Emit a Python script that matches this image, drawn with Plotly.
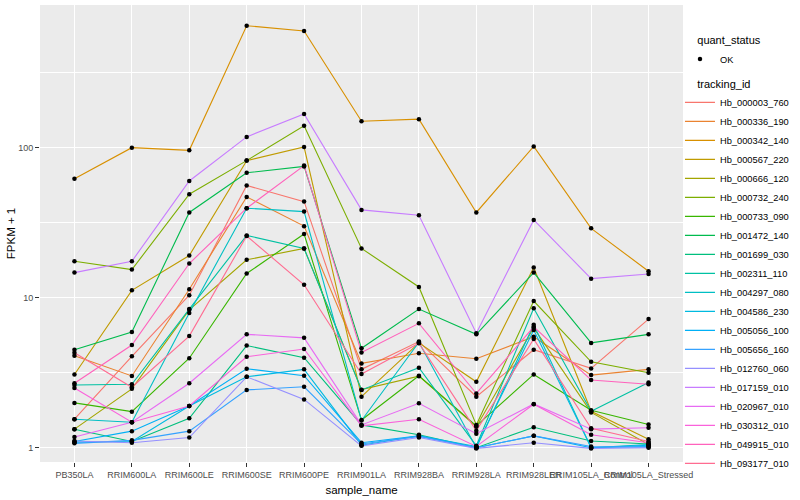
import plotly.graph_objects as go

samples = ["PB350LA", "RRIM600LA", "RRIM600LE", "RRIM600SE", "RRIM600PE", "RRIM901LA",
           "RRIM928BA", "RRIM928LA", "RRIM928LER", "RRIM105LA_Control", "RRIM105LA_Stressed"]

tracking_ids = ["Hb_000003_760", "Hb_000336_190", "Hb_000342_140", "Hb_000567_220", "Hb_000666_120",
                "Hb_000732_240", "Hb_000733_090", "Hb_001472_140", "Hb_001699_030", "Hb_002311_110",
                "Hb_004297_080", "Hb_004586_230", "Hb_005056_100", "Hb_005656_160", "Hb_012760_060",
                "Hb_017159_010", "Hb_020967_010", "Hb_030312_010", "Hb_049915_010", "Hb_093177_010"]

colors = ["#F8766D", "#EA8331", "#D89000", "#C09B00", "#A3A500", "#7CAE00", "#39B600", "#00BB4E",
          "#00BF7D", "#00C1A3", "#00BFC4", "#00BAE0", "#00B0F6", "#35A2FF", "#9590FF", "#C77CFF",
          "#E76BF3", "#FA62DB", "#FF62BC", "#FF6C91"]

# FPKM + 1 values per tracking id, in sample order
hb_000003_760 = [1.55, 4.07, 10.4, 56, 43.7, 3.33, 5.1, 2.19, 4.5, 3.38, 7.2]
hb_000336_190 = [4.1, 3.01, 11.4, 47, 30, 3.65, 4.26, 3.92, 5.5, 3.05, 3.33]
hb_000342_140 = [62, 100, 96, 650, 600, 150, 155, 37, 102, 29, 15]
hb_000567_220 = [3.08, 11.2, 19.1, 82, 101, 2.19, 5.0, 2.75, 15.9, 1.75, 1.14]
hb_000666_120 = [1.33, 2.47, 8.3, 17.9, 21.3, 2.44, 3.0, 1.38, 6.3, 1.72, 1.05]
hb_000732_240 = [17.5, 15.4, 49, 82, 140, 21.3, 11.8, 1.42, 9.5, 3.74, 3.16]
hb_000733_090 = [1.99, 1.74, 3.95, 14.5, 26.6, 1.53, 3.02, 1.40, 3.08, 1.78, 1.43]
hb_001472_140 = [4.5, 5.9, 37, 68, 75, 4.6, 8.4, 5.7, 14.7, 5.0, 5.7]
hb_001699_030 = [1.33, 1.1, 1.57, 4.8, 3.98, 1.42, 1.22, 1.0, 1.37, 1.11, 1.06]
hb_002311_110 = [2.62, 2.65, 8.4, 26, 21.3, 2.43, 3.42, 1.03, 8.5, 1.75, 2.72]
hb_004297_080 = [1.55, 1.48, 7.9, 39.5, 37.5, 1.52, 5.05, 1.0, 6.6, 1.0, 1.05]
hb_004586_230 = [1.09, 1.1, 1.9, 2.97, 3.33, 1.04, 1.2, 1.02, 6.1, 1.0, 1.02]
hb_005056_100 = [1.1, 1.29, 1.9, 3.36, 3.02, 1.08, 1.2, 1.0, 1.2, 1.0, 1.04]
hb_005656_160 = [1.07, 1.12, 1.29, 2.43, 2.55, 1.06, 1.19, 1.0, 1.2, 1.02, 1.01]
hb_012760_060 = [1.11, 1.08, 1.17, 2.97, 2.1, 1.03, 1.17, 0.99, 1.08, 0.99, 1.0]
hb_017159_010 = [14.7, 17.5, 60, 118, 168, 38.5, 35.5, 5.8, 33, 13.4, 14.4]
hb_020967_010 = [1.18, 1.48, 2.69, 5.7, 5.4, 1.42, 1.98, 1.24, 1.96, 1.33, 1.36]
hb_030312_010 = [2.5, 1.48, 1.9, 4.04, 4.55, 1.4, 1.55, 1.02, 1.95, 1.22, 1.08]
hb_049915_010 = [2.69, 4.84, 16.9, 39.5, 76, 4.32, 6.75, 2.3, 6.4, 2.83, 2.65]
hb_093177_010 = [4.3, 2.53, 5.55, 25.8, 12.2, 3.1, 4.97, 1.3, 5.3, 1.35, 1.1]

series = [hb_000003_760, hb_000336_190, hb_000342_140, hb_000567_220, hb_000666_120,
          hb_000732_240, hb_000733_090, hb_001472_140, hb_001699_030, hb_002311_110,
          hb_004297_080, hb_004586_230, hb_005056_100, hb_005656_160, hb_012760_060,
          hb_017159_010, hb_020967_010, hb_030312_010, hb_049915_010, hb_093177_010]

fig = go.Figure()
for name, vals, col in zip(tracking_ids, series, colors):
    fig.add_trace(go.Scatter(x=samples, y=vals, mode="lines", name=name, showlegend=True,
                             line=dict(color=col, width=1.1), legend="legend2"))

all_x = [s for vals in series for s in samples]
all_y = [v for vals in series for v in vals]
fig.add_trace(go.Scatter(x=all_x, y=all_y, mode="markers", name="OK", showlegend=True,
                         marker=dict(color="black", size=4.5), legend="legend"))

pad = "\u00a0" * 5

fig.update_layout(
    width=800, height=500, showlegend=True,
    paper_bgcolor="white", plot_bgcolor="#EBEBEB",
    margin=dict(l=40, r=117, t=5, b=38, autoexpand=False),
    font=dict(family="Liberation Sans, Arial, sans-serif", color="black"),
    xaxis=dict(type="category", categoryorder="array", categoryarray=samples,
               range=[-0.6, 10.6], showgrid=True, gridcolor="white", gridwidth=1.1,
               ticks="outside", ticklen=4, tickcolor="#333333", tickwidth=1,
               tickangle=0, tickfont=dict(size=9, color="#4D4D4D"),
               title=dict(text="sample_name", font=dict(size=11.5), standoff=7),
               zeroline=False, showline=False),
    yaxis=dict(type="log", range=[-0.095, 2.951],
               tickvals=[1, 10, 100], ticktext=["1", "10", "100"],
               showgrid=True, gridcolor="white", gridwidth=1.1,
               minor=dict(tickvals=[3.1623, 31.623, 316.23], showgrid=True,
                          gridcolor="white", gridwidth=0.55, ticks=""),
               ticks="outside", ticklen=4, tickcolor="#333333", tickwidth=1,
               tickfont=dict(size=9, color="#4D4D4D"),
               title=dict(text="FPKM + 1", font=dict(size=11.5), standoff=0),
               zeroline=False, showline=False),
    legend=dict(x=0.9953, y=0.945, xanchor="left", yanchor="top",
                title=dict(text=pad + "quant_status", font=dict(size=11)),
                font=dict(size=9.3), bgcolor="rgba(0,0,0,0)", itemwidth=30),
    legend2=dict(x=0.9953, y=0.85, xanchor="left", yanchor="top",
                 title=dict(text=pad + "tracking_id", font=dict(size=11)),
                 font=dict(size=9.3), bgcolor="rgba(0,0,0,0)", itemwidth=30),
)

fig.write_html("out.html", config={"displayModeBar": False},
               post_script="document.body.style.margin='0';")
